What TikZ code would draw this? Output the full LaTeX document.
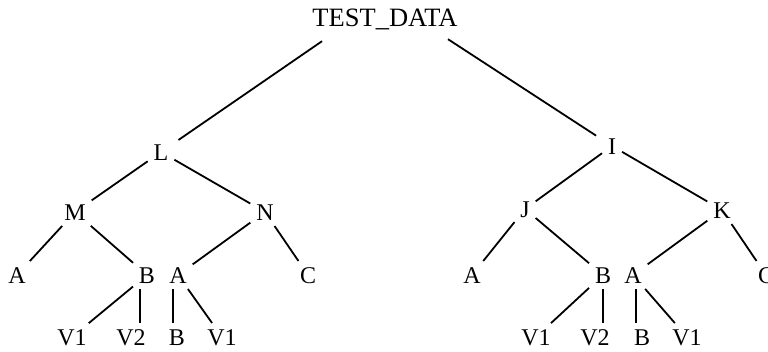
\documentclass[tikz,border=0pt]{standalone}
\usepackage{fontspec}
\setmainfont{Liberation Serif}
\tikzset{
      treenode/.style={
        font=\fontsize{24}{24}\selectfont,
        text height=16pt,
        text depth=0pt,
        inner sep=5pt
      },
      branch/.style={
        line width=1.8pt,
        color=black,
        shorten <=1pt,
        shorten >=1pt
      }
    }
\begin{document}
\begin{tikzpicture}[x=1pt,y=-1pt]
    \useasboundingbox (0,0) rectangle (768,351);
    \node[treenode, font=\fontsize{26.5}{26.5}\selectfont] (root) at (385,18) {TEST\_DATA};
    \node[treenode] (L) at (161,152) {L};
    \node[treenode] (I) at (612,146) {I};
    \node[treenode] (M) at (75,212) {M};
    \node[treenode] (N) at (265,212) {N};
    \node[treenode] (J) at (525,209) {J};
    \node[treenode] (K) at (722,210) {K};
    \node[treenode] (mA) at (17,275) {A};
    \node[treenode] (mB) at (147,275) {B};
    \node[treenode] (nA) at (178,275) {A};
    \node[treenode] (nC) at (308,275) {C};
    \node[treenode] (jA) at (472,275) {A};
    \node[treenode] (jB) at (603,275) {B};
    \node[treenode] (kA) at (633,275) {A};
    \node[treenode] (kC) at (766,275) {C};
    \node[treenode] (bV1) at (72,337) {V1};
    \node[treenode] (bV2) at (131,337) {V2};
    \node[treenode] (aB) at (177,337) {B};
    \node[treenode] (aV1) at (222,337) {V1};
    \node[treenode] (rbV1) at (536,337) {V1};
    \node[treenode] (rbV2) at (595,337) {V2};
    \node[treenode] (raB) at (642,337) {B};
    \node[treenode] (raV1) at (687,337) {V1};
    \draw[branch, shorten <=0pt, shorten >=6pt] ([xshift=-63pt,yshift=-10pt]root.south) -- (L);
    \draw[branch, shorten <=0pt, shorten >=8pt] ([xshift=63pt,yshift=-8pt]root.south) -- (I);
    \draw[branch] (L) -- (M);
    \draw[branch] (L) -- (N);
    \draw[branch] (I) -- (J);
    \draw[branch] (I) -- (K);
    \draw[branch] (M) -- (mA);
    \draw[branch] (M) -- (mB);
    \draw[branch] (N) -- (nA);
    \draw[branch] (N) -- (nC);
    \draw[branch] (J) -- (jA);
    \draw[branch] (J) -- (jB);
    \draw[branch] (K) -- (kA);
    \draw[branch] (K) -- (kC);
    \draw[branch] (mB) -- (bV1);
    \draw[branch] ([xshift=-7pt]mB.south) -- ([xshift=-7pt]mB.south |- bV2.north);
    \draw[branch] ([xshift=-5pt]nA.south) -- ([xshift=-5pt]nA.south |- aB.north);
    \draw[branch] (nA) -- (aV1);
    \draw[branch] (jB) -- (rbV1);
    \draw[branch] (jB.south) -- (jB.south |- rbV2.north);
    \draw[branch] ([xshift=3pt]kA.south) -- ([xshift=3pt]kA.south |- raB.north);
    \draw[branch] (kA) -- (raV1);
\end{tikzpicture}
\end{document}
